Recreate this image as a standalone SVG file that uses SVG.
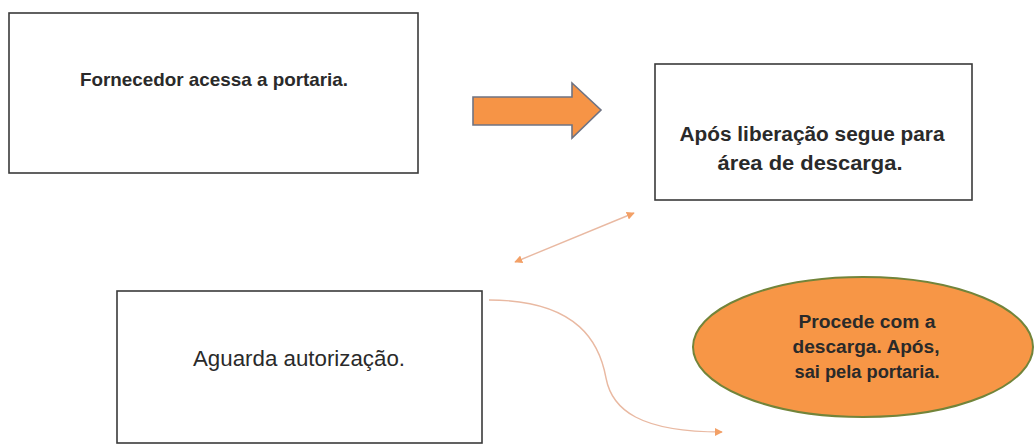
<svg xmlns="http://www.w3.org/2000/svg" width="1035" height="444" viewBox="0 0 1035 444">
  <style>
    .box { fill: #ffffff; stroke: #3a3a3a; stroke-width: 1.6; }
    .label { font-family: "Liberation Sans", Arial, sans-serif; fill: #2a2a2a; text-anchor: middle; }
    .bold { font-weight: bold; }
    .link { fill: none; stroke: #e9b9a2; stroke-width: 1.4; }
  </style>
  <defs>
    <marker id="headEnd" viewBox="0 0 10 10" refX="9" refY="5" markerWidth="8" markerHeight="8" markerUnits="userSpaceOnUse" orient="auto">
      <path d="M0,0 L10,5 L0,10 Z" fill="#f3a066"/>
    </marker>
    <marker id="headStart" viewBox="0 0 10 10" refX="1" refY="5" markerWidth="8" markerHeight="8" markerUnits="userSpaceOnUse" orient="auto">
      <path d="M10,0 L0,5 L10,10 Z" fill="#f3a066"/>
    </marker>
  </defs>
  <rect width="1035" height="444" fill="#ffffff"/>

  <g id="node-fornecedor">
    <rect class="box" x="9" y="13" width="409" height="160"/>
    <text class="label bold" x="214" y="86" font-size="18.5" textLength="268" lengthAdjust="spacingAndGlyphs">Fornecedor acessa a portaria.</text>
  </g>

  <g id="node-liberacao">
    <rect class="box" x="655" y="64" width="317" height="136"/>
    <text class="label bold" x="812" y="141" font-size="20" textLength="265" lengthAdjust="spacingAndGlyphs">Após liberação segue para</text>
    <text class="label bold" x="810" y="170" font-size="20" textLength="185" lengthAdjust="spacingAndGlyphs">área de descarga.</text>
  </g>

  <g id="node-aguarda">
    <rect class="box" x="117" y="291" width="365" height="152"/>
    <text class="label" x="299" y="366" font-size="22" textLength="212" lengthAdjust="spacingAndGlyphs">Aguarda autorização.</text>
  </g>

  <g id="node-descarga">
    <ellipse cx="863" cy="347" rx="170" ry="70" fill="#f79646" stroke="#72843a" stroke-width="2"/>
    <text class="label bold" x="867" y="328" font-size="18" fill="#3a2a1a" textLength="137" lengthAdjust="spacingAndGlyphs">Procede com a</text>
    <text class="label bold" x="866" y="353" font-size="18" textLength="147" lengthAdjust="spacingAndGlyphs">descarga. Após,</text>
    <text class="label bold" x="867" y="378" font-size="18" textLength="145" lengthAdjust="spacingAndGlyphs">sai pela portaria.</text>
  </g>

  <g id="connectors">
    <!-- block arrow between the first two steps -->
    <polygon points="473,97 572,97 572,83 601,110 572,138 572,125 473,125" fill="#f69446" stroke="#6f7383" stroke-width="1.6" stroke-linejoin="miter"/>
    <!-- two-way link between release and waiting steps -->
    <line class="link" x1="515" y1="262" x2="634" y2="213" marker-start="url(#headStart)" marker-end="url(#headEnd)"/>
    <!-- curved link from waiting step to unloading -->
    <path class="link" d="M489,300 C580,300 600,345 606,378 C612,410 640,432 722,432" marker-end="url(#headEnd)"/>
  </g>
</svg>
